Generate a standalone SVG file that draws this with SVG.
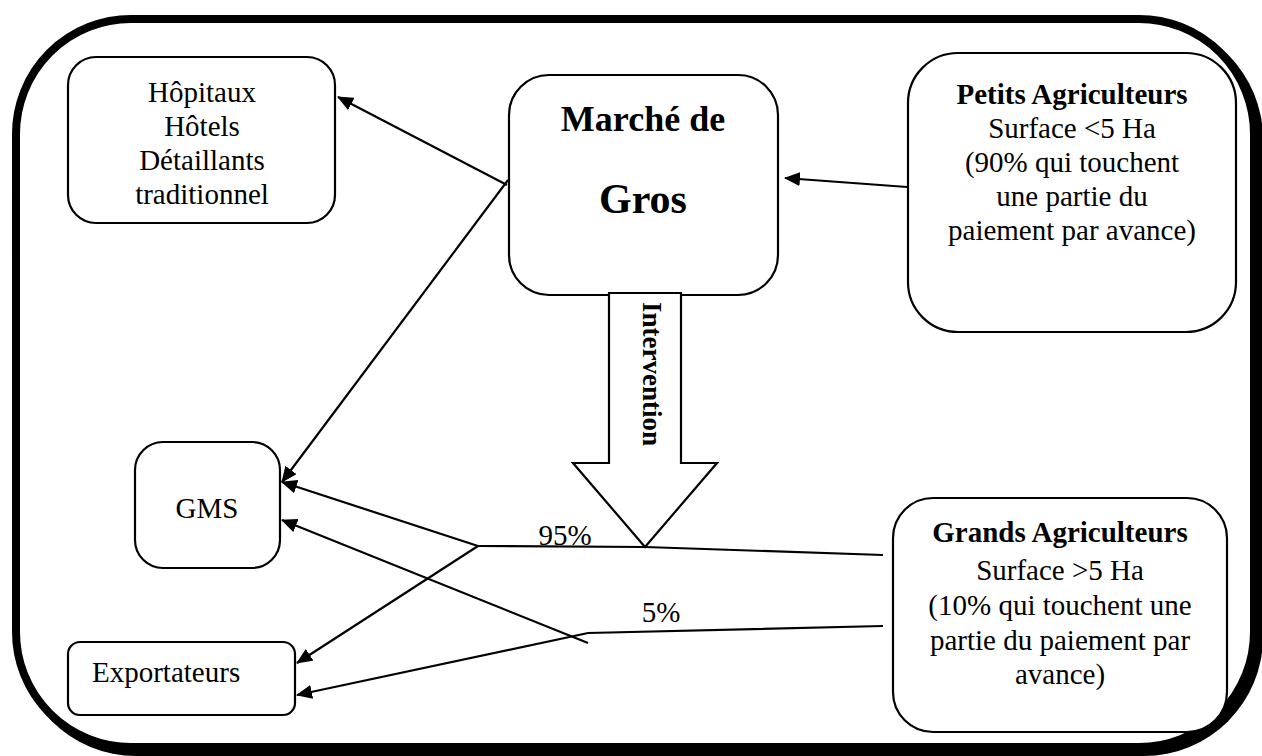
<svg xmlns="http://www.w3.org/2000/svg" width="1262" height="756" viewBox="0 0 1262 756">
<style>
.box{fill:#fff;stroke:#000;stroke-width:2.2}
.t{font-family:"Liberation Serif","Times New Roman",serif;font-size:29px;fill:#000;text-anchor:middle}
.b{font-weight:bold}
.c{fill:none;stroke:#000;stroke-width:2.2}
.a{marker-end:url(#ah)}
</style>
<defs>
<marker id="ah" markerUnits="userSpaceOnUse" markerWidth="16" markerHeight="14" refX="15" refY="7" orient="auto">
<path d="M0,0 L16,7 L0,14 z" fill="#000"/>
</marker>
</defs>
<g id="frame">
<rect x="17" y="20" width="1246" height="736" rx="119" fill="#000"/>
<rect x="16" y="19" width="1238" height="728" rx="115" fill="#fff" stroke="#000" stroke-width="8"/>
</g>
<g id="connectors">
<line class="c a" x1="507" y1="185" x2="338" y2="97"/>
<line class="c a" x1="508" y1="180" x2="282" y2="482"/>
<line class="c a" x1="907" y1="187" x2="785" y2="178"/>
<polyline class="c" points="883,555 645,547 478,546"/>
<line class="c a" x1="478" y1="546" x2="282" y2="482"/>
<line class="c a" x1="478" y1="546" x2="297" y2="663"/>
<line class="c a" x1="588" y1="643" x2="282" y2="520"/>
<polyline class="c a" points="883,626 588,633 297,695"/>
<text class="t" x="565" y="545">95%</text>
<text class="t" x="661" y="622">5%</text>
</g>
<g id="hopitaux">
<rect class="box" x="68" y="57" width="267" height="166" rx="28"/>
<text class="t" x="202" y="102">Hôpitaux</text>
<text class="t" x="202" y="136">Hôtels</text>
<text class="t" x="202" y="170">Détaillants</text>
<text class="t" x="202" y="204">traditionnel</text>
</g>
<g id="marche">
<rect class="box" x="509" y="75" width="269" height="220" rx="40"/>
<text class="t b" x="643" y="131" style="font-size:36px">Marché de</text>
<text class="t b" x="643" y="213" style="font-size:42px">Gros</text>
</g>
<g id="petits">
<rect class="box" x="908" y="53" width="328" height="279" rx="50"/>
<text class="t b" x="1072" y="104">Petits Agriculteurs</text>
<text class="t" x="1072" y="138">Surface &lt;5 Ha</text>
<text class="t" x="1072" y="172">(90% qui touchent</text>
<text class="t" x="1072" y="206">une partie du</text>
<text class="t" x="1072" y="240">paiement par avance)</text>
</g>
<g id="intervention">
<path class="box" d="M609,293 L681,293 L681,463 L717,463 L645,547 L573,463 L609,463 Z"/>
<text class="t b" transform="translate(643,374) rotate(90)" style="font-size:27px">Intervention</text>
</g>
<g id="gms">
<rect class="box" x="135" y="442" width="145" height="126" rx="28"/>
<text class="t" x="207" y="518">GMS</text>
</g>
<g id="exportateurs">
<rect class="box" x="68" y="642" width="227" height="73" rx="12"/>
<text class="t" x="92" y="682" style="text-anchor:start">Exportateurs</text>
</g>
<g id="grands">
<rect class="box" x="893" y="498" width="334" height="234" rx="40"/>
<text class="t b" x="1060" y="542">Grands Agriculteurs</text>
<text class="t" x="1060" y="580">Surface &gt;5 Ha</text>
<text class="t" x="1060" y="615">(10% qui touchent une</text>
<text class="t" x="1060" y="650">partie du paiement par</text>
<text class="t" x="1060" y="684">avance)</text>
</g>
</svg>
